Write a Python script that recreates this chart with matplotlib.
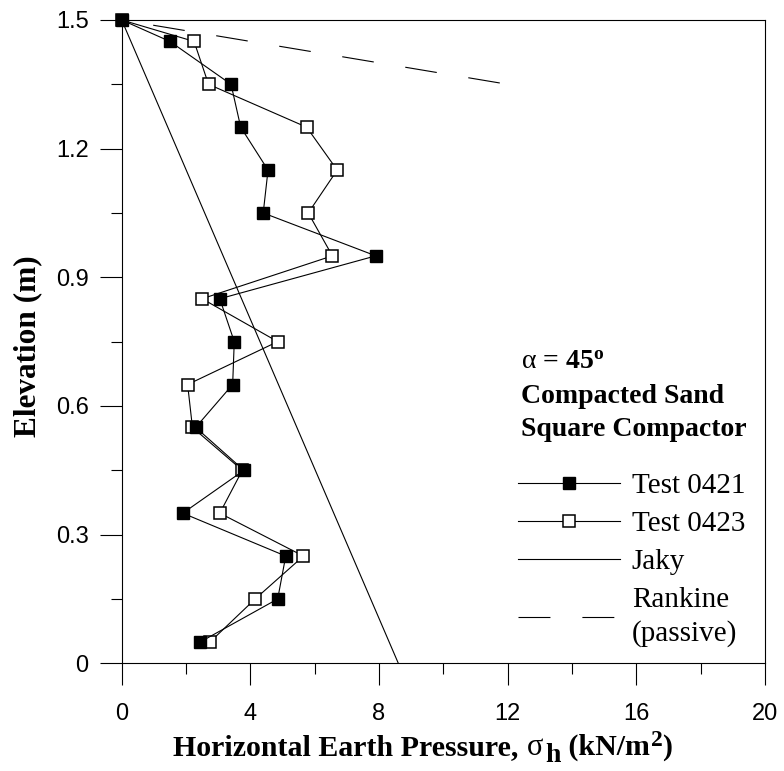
import numpy as np
import matplotlib.pyplot as plt
from matplotlib.ticker import MultipleLocator, FixedLocator

plt.rcParams["mathtext.fontset"] = "custom"
plt.rcParams["mathtext.rm"] = "Liberation Serif"
plt.rcParams["mathtext.bf"] = "Liberation Serif:bold"
plt.rcParams["mathtext.it"] = "Liberation Serif:italic"
plt.rcParams["lines.scale_dashes"] = False

# elevation (m) of the pressure cells
elev = [1.5, 1.45, 1.35, 1.25, 1.15, 1.05, 0.95, 0.85,
        0.75, 0.65, 0.55, 0.45, 0.35, 0.25, 0.15, 0.05]
# horizontal earth pressure (kN/m2)
p0421 = [0, 1.5, 3.4, 3.7, 4.55, 4.4, 7.9, 3.05,
         3.5, 3.45, 2.3, 3.8, 1.9, 5.1, 4.85, 2.45]
p0423 = [0, 2.25, 2.7, 5.75, 6.7, 5.8, 6.55, 2.5,
         4.85, 2.05, 2.2, 3.75, 3.05, 5.65, 4.15, 2.75]
jaky_x = [0, 8.6]
jaky_y = [1.5, 0]
rank_x = [0, 12]
rank_y = [1.5, 1.35]

xticks = [0, 4, 8, 12, 16, 20]
yticks = [0, 0.3, 0.6, 0.9, 1.2, 1.5]
ylabels = ['0', '0.3', '0.6', '0.9', '1.2', '1.5']

W, H = 784, 771
fig = plt.figure(figsize=(W / 100, H / 100), dpi=100)
ax = fig.add_axes([0.1552, 0.1397, 0.8206, 0.8344])

lw = 0.8
ax.plot(p0421, elev, 'k-', lw=lw, marker='s', ms=8.6, mfc='k', mec='k',
        label='Test 0421', clip_on=False, zorder=4)
ax.plot(p0423, elev, 'k-', lw=lw, marker='s', ms=8.3, mfc='white', mec='k',
        mew=1.1, label='Test 0423', clip_on=False, zorder=3)
ax.plot(jaky_x, jaky_y, 'k-', lw=lw, label='Jaky', zorder=2)
ax.plot(rank_x, rank_y, color='k', lw=lw, linestyle=(23, (23, 23)),
        label='Rankine\n(passive)', zorder=2)

ax.set_xlim(0, 20)
ax.set_ylim(0, 1.5)
ax.xaxis.set_major_locator(FixedLocator(xticks))
ax.xaxis.set_minor_locator(MultipleLocator(2))
ax.yaxis.set_major_locator(FixedLocator(yticks))
ax.yaxis.set_minor_locator(MultipleLocator(0.15))
ax.set_yticklabels(ylabels)
ax.set_xticklabels([str(v) for v in xticks])

for lab in ax.get_xticklabels() + ax.get_yticklabels():
    lab.set_fontfamily(['Liberation Sans', 'DejaVu Sans'])
    lab.set_fontsize(17)
ax.tick_params(which='major', direction='out', length=15.8, width=0.8)
ax.tick_params(which='minor', direction='out', length=7.9, width=0.8)
ax.tick_params(axis='x', which='major', pad=12.5)
ax.tick_params(axis='y', which='major', pad=8)
for sp in ax.spines.values():
    sp.set_linewidth(0.8)

serif = ['Liberation Serif', 'DejaVu Serif']
ax.set_ylabel('Elevation (m)', family=serif, weight='bold', size=22.5)
ax.yaxis.set_label_coords(-0.124, 0.493)

# x label built from pieces (sigma, subscript and superscript as in the original)
xl_pieces = [("Horizontal Earth Pressure, ", 'bold', 21.5, 0, 0),
             ("σ", 'normal', 22, 0, 1),
             ("h", 'bold', 20, -7, 2),
             (" (kN/m", 'bold', 21.5, 0, 0),
             ("2", 'bold', 17, 9, 1),
             (")", 'bold', 21.5, 0, 0)]
fig.canvas.draw()
rend = fig.canvas.get_renderer()
xpos = 173
base = 755
for s, w, sz, dy, gap in xl_pieces:
    t = fig.text((xpos + gap) / W, 1 - (base - dy) / H, s, family=serif,
                 weight=w, size=sz, va='baseline', ha='left')
    xpos = t.get_window_extent(rend).x1

ax.text(12.42, 0.6856, r'$\mathrm{\alpha}$ = 45$^{\mathbf{o}}$', family=serif,
        weight='bold', size=20, va='baseline')
ax.text(12.42, 0.6077, 'Compacted Sand', family=serif, weight='bold',
        size=20, va='baseline')
ax.text(12.42, 0.530, 'Square Compactor', family=serif, weight='bold',
        size=20, va='baseline')

leg = ax.legend(loc='upper left', bbox_to_anchor=(0.616, 0.296), frameon=False,
                prop={'family': serif, 'size': 21}, handlelength=3.5,
                handletextpad=0.4, labelspacing=0.40, numpoints=1,
                borderpad=0, borderaxespad=0)
leg.get_lines()[3].set_linestyle((0, (23, 23)))
leg.get_texts()[3].set_linespacing(1.35)

fig.savefig('out.png', dpi=100)
